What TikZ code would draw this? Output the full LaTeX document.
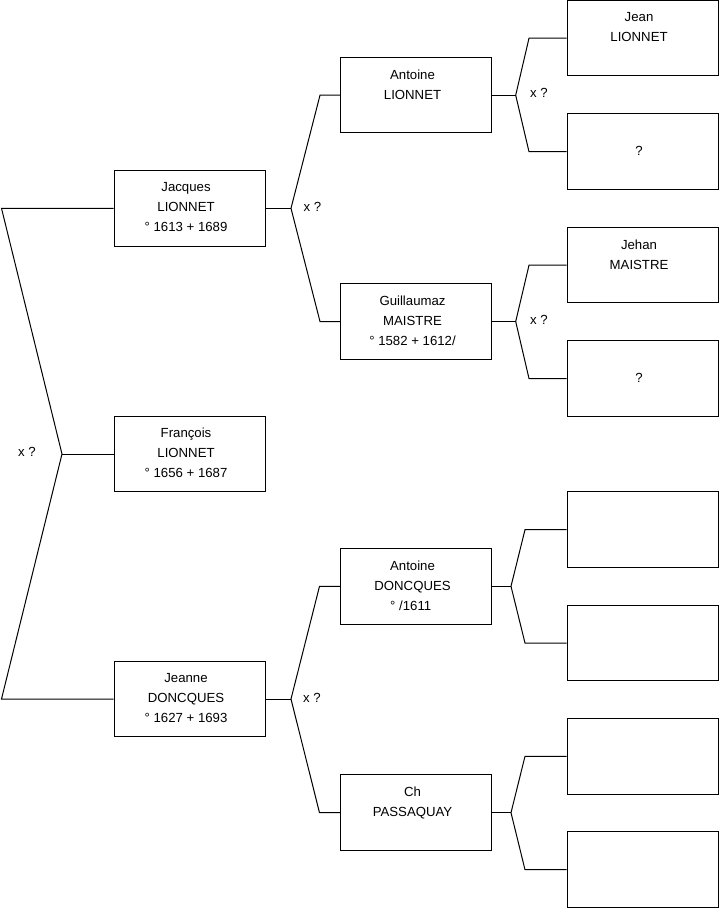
\documentclass[tikz,border=0pt]{standalone}
\usepackage{fontspec}
\setmainfont{Liberation Sans}
\begin{document}
\begin{tikzpicture}[x=0.75pt,y=-0.75pt,
  pbox/.style={draw=black, line width=0.75pt, rectangle, inner sep=0pt,
    minimum width=113.25pt, minimum height=56.6pt},
  ptext/.style={anchor=north, inner sep=0pt, align=center,
    font=\fontsize{9.9pt}{15pt}\selectfont, yshift=-9.2pt, xshift=-2.6pt},
  qtext/.style={anchor=north, inner sep=0pt, align=center,
    font=\fontsize{9.9pt}{15pt}\selectfont, yshift=-24.2pt, xshift=-2.6pt},
  xlab/.style={inner sep=0pt, font=\fontsize{9.9pt}{15pt}\selectfont},
  conn/.style={draw=black, line width=0.75pt}]
\useasboundingbox (0,0) rectangle (719,908);

% generation 1 and 2
\node[pbox] (jacques) at (189.5,208.3) {};
\node[pbox] (francois) at (189.5,454) {};
\node[pbox] (jeanne) at (189.5,699) {};
% generation 3
\node[pbox] (antoineL) at (416,95.2) {};
\node[pbox] (guillaumaz) at (416,321.5) {};
\node[pbox] (antoineD) at (416,586.3) {};
\node[pbox] (passaquay) at (416,812.7) {};
% generation 4
\node[pbox] (g1) at (642.5,38.2) {};
\node[pbox] (g2) at (642.5,151.7) {};
\node[pbox] (g3) at (642.5,265.2) {};
\node[pbox] (g4) at (642.5,378.5) {};
\node[pbox] (g5) at (642.5,529.7) {};
\node[pbox] (g6) at (642.5,643) {};
\node[pbox] (g7) at (642.5,756.3) {};
\node[pbox] (g8) at (642.5,869.7) {};

% texts
\node[ptext] (tjacques) at (jacques.north) {Jacques\\LIONNET\\° 1613 + 1689};
\node[ptext] (tfrancois) at (francois.north) {François\\LIONNET\\° 1656 + 1687};
\node[ptext] (tjeanne) at (jeanne.north) {Jeanne\\DONCQUES\\° 1627 + 1693};
\node[ptext] (tantoineL) at (antoineL.north) {Antoine\\LIONNET};
\node[ptext] (tguillaumaz) at (guillaumaz.north) {Guillaumaz\\MAISTRE\\° 1582 + 1612/};
\node[ptext] (tantoineD) at (antoineD.north) {Antoine\\DONCQUES\\° /1611\hspace*{2.7pt}};
\node[ptext] (tpassaquay) at (passaquay.north) {Ch\\PASSAQUAY};
\node[ptext] (tg1) at (g1.north) {Jean\\LIONNET};
\node[qtext] (tg2) at (g2.north) {?};
\node[ptext] (tg3) at (g3.north) {Jehan\\MAISTRE};
\node[qtext] (tg4) at (g4.north) {?};

% root fork
\coordinate (r1) at (1.5,208.3);
\coordinate (rM) at (62,454);
\coordinate (r2) at (1.5,699);
\draw[conn] (jacques.west) -- (r1) -- (rM) -- (r2) -- (jeanne.west);
\draw[conn] (rM) -- (francois.west);
\node[xlab] (x0) at (27,452) {x ?};

% Jacques fork
\coordinate (fJ) at (291,208.3);
\coordinate (fJ1) at (320,95.2);
\coordinate (fJ2) at (320,321.5);
\draw[conn] (jacques.east) -- (fJ);
\draw[conn] (antoineL.west) -- (fJ1) -- (fJ) -- (fJ2) -- (guillaumaz.west);
\node[xlab] (x1) at (312.5,207) {x ?};

% Jeanne fork
\coordinate (fE) at (291,699);
\coordinate (fE1) at (319.5,586.3);
\coordinate (fE2) at (319.5,812.7);
\draw[conn] (jeanne.east) -- (fE);
\draw[conn] (antoineD.west) -- (fE1) -- (fE) -- (fE2) -- (passaquay.west);
\node[xlab] (x2) at (312,698) {x ?};

% Antoine LIONNET fork
\coordinate (fA) at (515.7,95.2);
\coordinate (fA1) at (529,38.2);
\coordinate (fA2) at (529,151.7);
\draw[conn] (antoineL.east) -- (fA);
\draw[conn] (g1.west) -- (fA1) -- (fA) -- (fA2) -- (g2.west);
\node[xlab] (x3) at (539,93) {x ?};

% Guillaumaz fork
\coordinate (fG) at (515.7,321.5);
\coordinate (fG1) at (529,265.2);
\coordinate (fG2) at (529,378.5);
\draw[conn] (guillaumaz.east) -- (fG);
\draw[conn] (g3.west) -- (fG1) -- (fG) -- (fG2) -- (g4.west);
\node[xlab] (x4) at (539,320) {x ?};

% Antoine DONCQUES fork
\coordinate (fD) at (511,586.3);
\coordinate (fD1) at (525,529.7);
\coordinate (fD2) at (525,643);
\draw[conn] (antoineD.east) -- (fD);
\draw[conn] (g5.west) -- (fD1) -- (fD) -- (fD2) -- (g6.west);

% PASSAQUAY fork
\coordinate (fP) at (511,812.7);
\coordinate (fP1) at (525,756.3);
\coordinate (fP2) at (525,869.7);
\draw[conn] (passaquay.east) -- (fP);
\draw[conn] (g7.west) -- (fP1) -- (fP) -- (fP2) -- (g8.west);
\end{tikzpicture}
\end{document}
